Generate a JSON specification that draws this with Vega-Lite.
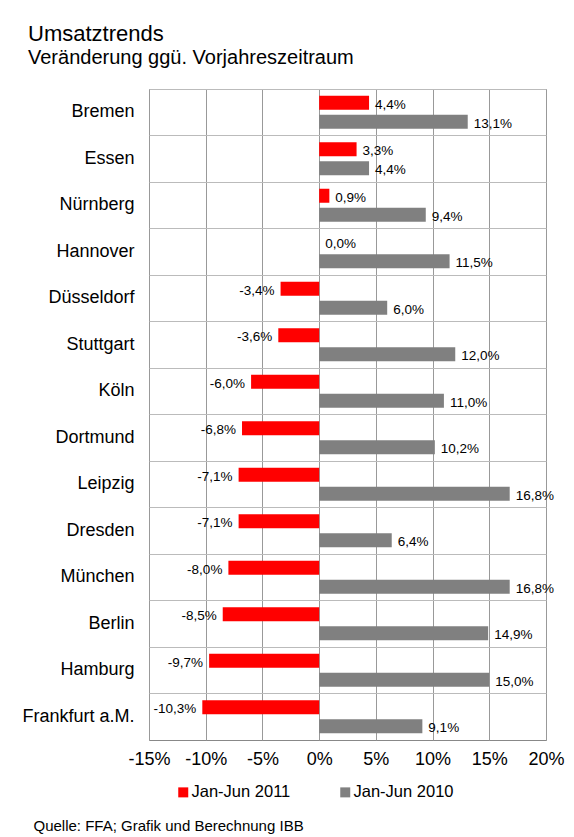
{
  "$schema": "https://vega.github.io/schema/vega-lite/v6.json",
  "autosize": "none",
  "padding": {"left": 149, "top": 89, "right": 28, "bottom": 97},
  "width": 397,
  "height": 651,
  "title": {
    "text": "Umsatztrends",
    "subtitle": "Veränderung ggü. Vorjahreszeitraum",
    "anchor": "start",
    "frame": "group",
    "dx": -121,
    "offset": 20,
    "fontSize": 22,
    "fontWeight": "normal",
    "color": "#000",
    "subtitleFontSize": 20,
    "subtitleColor": "#000",
    "subtitlePadding": 2
  },
  "data": {
    "values": [
      {"city": "Bremen", "period": "Jan-Jun 2011", "value": 0.044},
      {"city": "Bremen", "period": "Jan-Jun 2010", "value": 0.131},
      {"city": "Essen", "period": "Jan-Jun 2011", "value": 0.033},
      {"city": "Essen", "period": "Jan-Jun 2010", "value": 0.044},
      {"city": "Nürnberg", "period": "Jan-Jun 2011", "value": 0.009},
      {"city": "Nürnberg", "period": "Jan-Jun 2010", "value": 0.094},
      {"city": "Hannover", "period": "Jan-Jun 2011", "value": 0.0},
      {"city": "Hannover", "period": "Jan-Jun 2010", "value": 0.115},
      {"city": "Düsseldorf", "period": "Jan-Jun 2011", "value": -0.034},
      {"city": "Düsseldorf", "period": "Jan-Jun 2010", "value": 0.06},
      {"city": "Stuttgart", "period": "Jan-Jun 2011", "value": -0.036},
      {"city": "Stuttgart", "period": "Jan-Jun 2010", "value": 0.12},
      {"city": "Köln", "period": "Jan-Jun 2011", "value": -0.06},
      {"city": "Köln", "period": "Jan-Jun 2010", "value": 0.11},
      {"city": "Dortmund", "period": "Jan-Jun 2011", "value": -0.068},
      {"city": "Dortmund", "period": "Jan-Jun 2010", "value": 0.102},
      {"city": "Leipzig", "period": "Jan-Jun 2011", "value": -0.071},
      {"city": "Leipzig", "period": "Jan-Jun 2010", "value": 0.168},
      {"city": "Dresden", "period": "Jan-Jun 2011", "value": -0.071},
      {"city": "Dresden", "period": "Jan-Jun 2010", "value": 0.064},
      {"city": "München", "period": "Jan-Jun 2011", "value": -0.08},
      {"city": "München", "period": "Jan-Jun 2010", "value": 0.168},
      {"city": "Berlin", "period": "Jan-Jun 2011", "value": -0.085},
      {"city": "Berlin", "period": "Jan-Jun 2010", "value": 0.149},
      {"city": "Hamburg", "period": "Jan-Jun 2011", "value": -0.097},
      {"city": "Hamburg", "period": "Jan-Jun 2010", "value": 0.15},
      {"city": "Frankfurt a.M.", "period": "Jan-Jun 2011", "value": -0.103},
      {"city": "Frankfurt a.M.", "period": "Jan-Jun 2010", "value": 0.091}
    ]
  },
  "encoding": {
    "y": {
      "field": "city",
      "type": "nominal",
      "sort": ["Bremen", "Essen", "Nürnberg", "Hannover", "Düsseldorf", "Stuttgart", "Köln", "Dortmund", "Leipzig", "Dresden", "München", "Berlin", "Hamburg", "Frankfurt a.M."],
      "scale": {"paddingInner": 0, "paddingOuter": 0}
    },
    "yOffset": {
      "field": "period",
      "type": "nominal",
      "sort": ["Jan-Jun 2011", "Jan-Jun 2010"],
      "scale": {"paddingInner": 0.263, "paddingOuter": 0.355}
    },
    "x": {
      "field": "value",
      "type": "quantitative",
      "scale": {"domain": [-0.15, 0.2], "nice": false, "zero": false},
      "axis": {
        "values": [-0.15, -0.1, -0.05, 0, 0.05, 0.1, 0.15, 0.2],
        "format": ".0%",
        "grid": true,
        "gridColor": "#999",
        "ticks": false,
        "domain": false,
        "labelFontSize": 18,
        "labelPadding": 10,
        "labelColor": "#000",
        "labelOverlap": false,
        "labelFlush": false,
        "title": "Quelle: FFA; Grafik und Berechnung IBB",
        "titleX": -116,
        "titleY": 90,
        "titleAlign": "left",
        "titleBaseline": "alphabetic",
        "titleFontSize": 15,
        "titleFontWeight": "normal",
        "titleColor": "#000"
      }
    }
  },
  "layer": [
    {
      "mark": {"type": "bar"},
      "encoding": {
        "y": {
          "field": "city",
          "type": "nominal",
          "sort": ["Bremen", "Essen", "Nürnberg", "Hannover", "Düsseldorf", "Stuttgart", "Köln", "Dortmund", "Leipzig", "Dresden", "München", "Berlin", "Hamburg", "Frankfurt a.M."],
          "axis": {
            "title": null,
            "orient": "left",
            "ticks": false,
            "domain": false,
            "grid": false,
            "labelFontSize": 18,
            "labelPadding": 15,
            "labelColor": "#000",
            "labelLimit": 200
          }
        },
        "color": {
          "field": "period",
          "type": "nominal",
          "scale": {"domain": ["Jan-Jun 2011", "Jan-Jun 2010"], "range": ["#ff0000", "#808080"]},
          "legend": {
            "title": null,
            "orient": "none",
            "legendX": 26,
            "legendY": 695,
            "direction": "horizontal",
            "symbolType": "square",
            "symbolSize": 100,
            "symbolStrokeWidth": 0,
            "labelFontSize": 16.5,
            "labelColor": "#000",
            "labelOffset": 0,
            "columnPadding": 46
          }
        }
      }
    },
    {
      "transform": [{"filter": "datum.value >= 0"}],
      "mark": {"type": "text", "align": "left", "baseline": "middle", "dx": 6, "dy": 2, "fontSize": 13.5, "color": "#000"},
      "encoding": {
        "y": {
          "field": "city",
          "type": "nominal",
          "sort": ["Bremen", "Essen", "Nürnberg", "Hannover", "Düsseldorf", "Stuttgart", "Köln", "Dortmund", "Leipzig", "Dresden", "München", "Berlin", "Hamburg", "Frankfurt a.M."],
          "axis": {
            "title": null,
            "orient": "right",
            "labels": false,
            "ticks": false,
            "domain": false,
            "grid": true,
            "gridColor": "#bbb",
            "bandPosition": 0,
            "minExtent": 0
          }
        },
        "text": {"field": "value", "type": "quantitative", "format": ".1%"}
      }
    },
    {
      "transform": [{"filter": "datum.value < 0"}],
      "mark": {"type": "text", "align": "right", "baseline": "middle", "dx": -6, "dy": 2, "fontSize": 13.5, "color": "#000"},
      "encoding": {
        "y": {
          "field": "city",
          "type": "nominal",
          "sort": ["Bremen", "Essen", "Nürnberg", "Hannover", "Düsseldorf", "Stuttgart", "Köln", "Dortmund", "Leipzig", "Dresden", "München", "Berlin", "Hamburg", "Frankfurt a.M."],
          "axis": null
        },
        "text": {"field": "value", "type": "quantitative", "format": ".1%"}
      }
    }
  ],
  "resolve": {"axis": {"y": "independent"}},
  "config": {
    "font": "Liberation Sans",
    "locale": {
      "number": {"decimal": ",", "thousands": ".", "grouping": [3], "currency": ["", " €"], "minus": "-"}
    },
    "view": {"stroke": "#888", "strokeWidth": 1},
    "background": "#ffffff"
  }
}
